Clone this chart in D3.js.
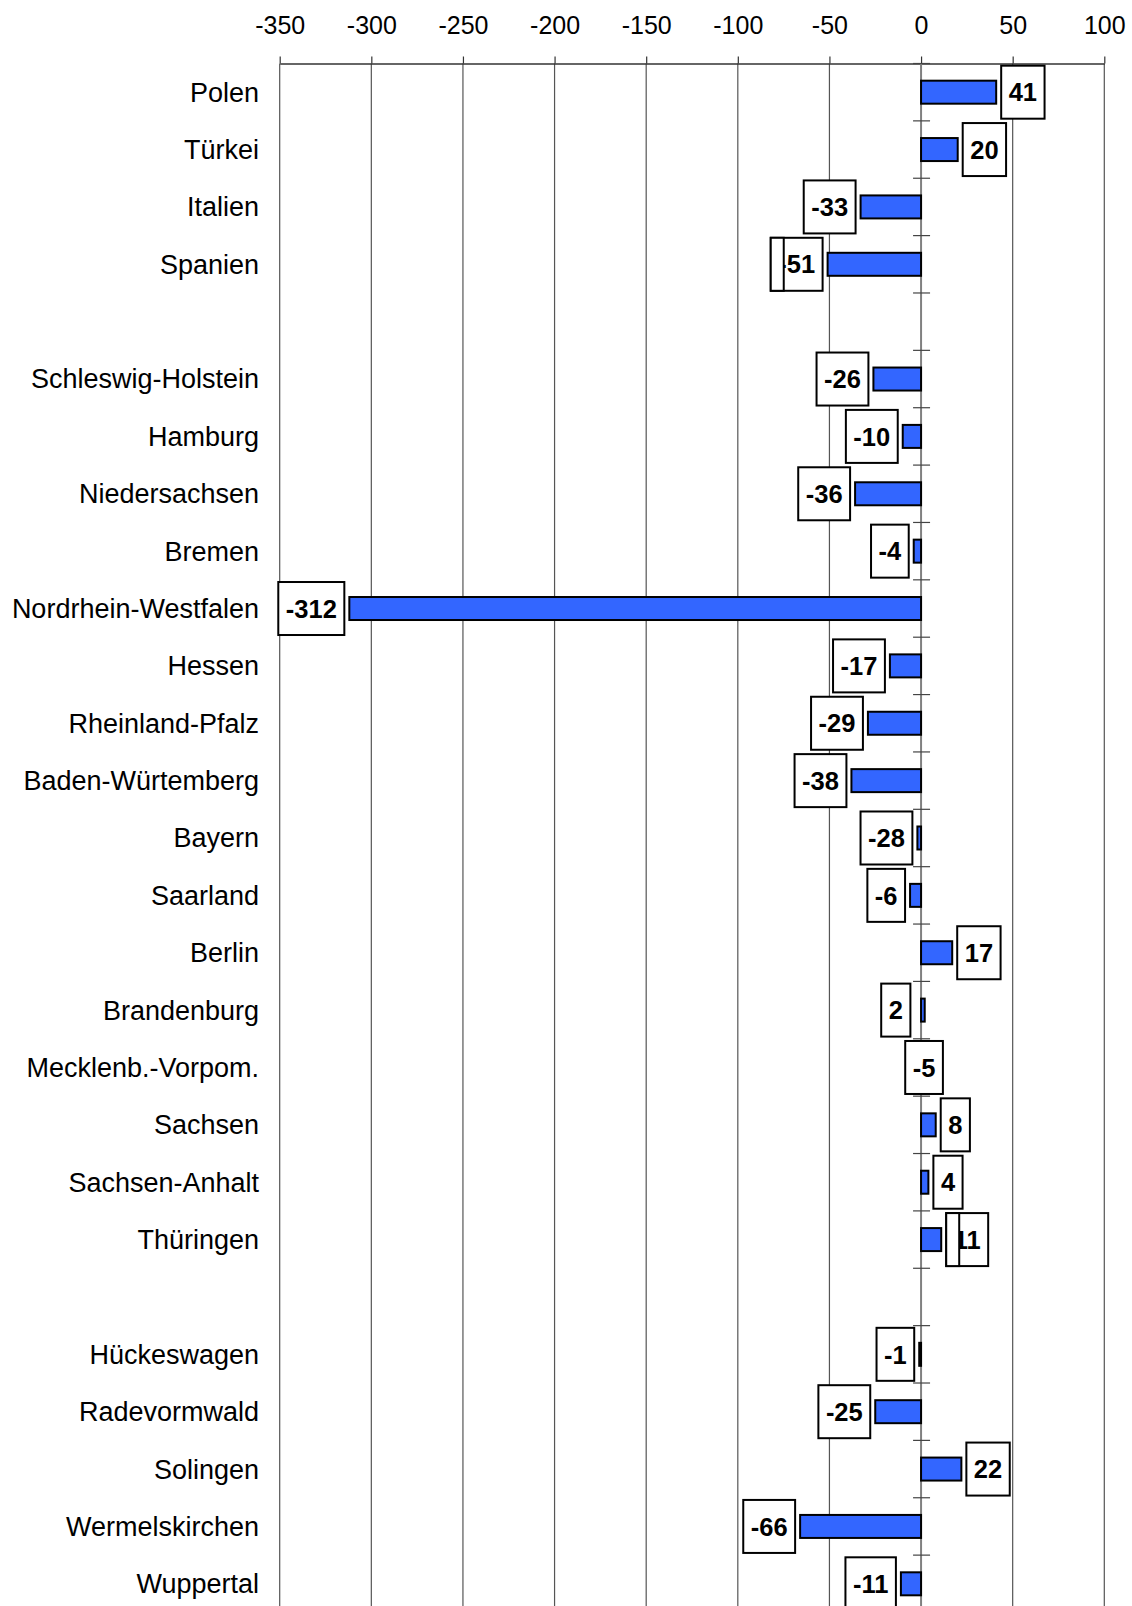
<!DOCTYPE html>
<html>
<head>
<meta charset="utf-8">
<script src="https://cdn.jsdelivr.net/npm/d3@7"></script>
<style>
  body { margin: 0; background: #fff; }
  svg { display: block; font-family: "Liberation Sans", Arial, sans-serif; }
</style>
</head>
<body>
<svg id="chart" width="1132" height="1606"></svg>
<script>
// categories, top to bottom ('' = empty spacer row)
var categories = ['Polen', 'Türkei', 'Italien', 'Spanien', '',
    'Schleswig-Holstein', 'Hamburg', 'Niedersachsen', 'Bremen', 'Nordrhein-Westfalen',
    'Hessen', 'Rheinland-Pfalz', 'Baden-Würtemberg', 'Bayern', 'Saarland', 'Berlin',
    'Brandenburg', 'Mecklenb.-Vorpom.', 'Sachsen', 'Sachsen-Anhalt', 'Thüringen', '',
    'Hückeswagen', 'Radevormwald', 'Solingen', 'Wermelskirchen', 'Wuppertal'];

// bar lengths as drawn
var values = [41, 20, -33, -51, null,
    -26, -10, -36, -4, -312,
    -17, -29, -38, -2, -6, 17,
    2, -5, 8, 4, 11, null,
    -1, -25, 22, -66, -11];

// printed data labels
var labelValues = [41, 20, -33, -51, null,
    -26, -10, -36, -4, -312,
    -17, -29, -38, -28, -6, 17,
    2, -5, 8, 4, 11, null,
    -1, -25, 22, -66, -11];

var tickValues = [-350, -300, -250, -200, -150, -100, -50, 0, 50, 100];

// label quirks of the original chart
var flippedLabels = ['Brandenburg'];
var centeredLabels = ['Mecklenb.-Vorpom.'];
var coveredLabels = ['Spanien', 'Thüringen'];

var svg = d3.select('#chart');

var xScale = d3.scaleLinear().domain([-350, 100]).range([279.7, 1104.3]);
var yScale = d3.scaleBand()
    .domain(d3.range(categories.length))
    .range([63.5, 63.5 + categories.length * 57.37]);

var axisY = 63.5;
var bottom = 1606;
var barHeight = 23;
var boxHeight = 53;
var gap = 5;
var pad = 7.5;

// gridlines
svg.append('g')
    .selectAll('line')
    .data(tickValues.filter(function(d) { return d !== 0; }))
    .join('line')
    .attr('x1', function(d) { return xScale(d); })
    .attr('x2', function(d) { return xScale(d); })
    .attr('y1', axisY)
    .attr('y2', bottom)
    .attr('stroke', '#555')
    .attr('stroke-width', 1.2);

// top axis
var xAxis = svg.append('g')
    .attr('transform', 'translate(0,' + axisY + ')')
    .call(d3.axisTop(xScale)
        .tickValues(tickValues)
        .tickFormat(function(d) { return String(d); })
        .tickSize(7)
        .tickSizeOuter(0)
        .tickPadding(23));

xAxis.select('.domain').attr('stroke', '#333').attr('stroke-width', 1.6);
xAxis.selectAll('.tick line').attr('stroke', '#333').attr('stroke-width', 1.2);
xAxis.selectAll('.tick text')
    .attr('font-family', '"Liberation Sans", Arial, sans-serif')
    .attr('font-size', 25)
    .attr('fill', '#000');

// zero line
var x0 = xScale(0);
svg.append('line')
    .attr('x1', x0).attr('x2', x0)
    .attr('y1', axisY).attr('y2', bottom)
    .attr('stroke', '#808080')
    .attr('stroke-width', 2);

// category ticks at band boundaries
var boundaries = d3.range(categories.length + 1).map(function(i) {
    return yScale.range()[0] + i * yScale.step();
});
svg.append('g')
    .selectAll('line')
    .data(boundaries)
    .join('line')
    .attr('x1', x0 - 8)
    .attr('x2', x0 + 9)
    .attr('y1', function(d) { return d; })
    .attr('y2', function(d) { return d; })
    .attr('stroke', '#444')
    .attr('stroke-width', 1.2);

// category labels
svg.append('g')
    .selectAll('text')
    .data(categories)
    .join('text')
    .attr('x', 259)
    .attr('y', function(d, i) { return yScale(i) + yScale.bandwidth() / 2; })
    .attr('dy', '0.35em')
    .attr('text-anchor', 'end')
    .attr('font-size', 27)
    .attr('fill', '#000')
    .text(function(d) { return d; });

var rows = categories.map(function(c, i) {
    return { name: c, index: i, value: values[i], label: labelValues[i] };
}).filter(function(d) { return d.value !== null; });

// bars
svg.append('g')
    .selectAll('rect')
    .data(rows)
    .join('rect')
    .attr('x', function(d) { return xScale(Math.min(0, d.value)); })
    .attr('width', function(d) { return Math.abs(xScale(d.value) - x0); })
    .attr('y', function(d) { return yScale(d.index) + yScale.bandwidth() / 2 - barHeight / 2; })
    .attr('height', barHeight)
    .attr('fill', '#3366ff')
    .attr('stroke', '#000')
    .attr('stroke-width', 2);

// data labels in boxes
var labelGroup = svg.append('g');
rows.forEach(function(d) {
    var cy = yScale(d.index) + yScale.bandwidth() / 2;
    var g = labelGroup.append('g');
    var box = g.append('rect');
    var text = g.append('text')
        .attr('font-size', 25.5)
        .attr('font-weight', 'bold')
        .attr('text-anchor', 'middle')
        .attr('dy', '0.36em')
        .attr('y', cy)
        .text(String(d.label));
    var w = text.node().getComputedTextLength() + 2 * pad;

    var left;
    if (centeredLabels.indexOf(d.name) >= 0) {
        left = x0 + 3 - w / 2;
    } else if (flippedLabels.indexOf(d.name) >= 0) {
        left = xScale(-Math.abs(d.value)) - gap - 2 - w;
    } else if (d.value >= 0) {
        left = xScale(d.value) + gap;
    } else {
        left = xScale(d.value) - gap - w;
    }

    box.attr('x', left)
        .attr('y', cy - boxHeight / 2)
        .attr('width', w)
        .attr('height', boxHeight)
        .attr('fill', '#fff')
        .attr('stroke', '#000')
        .attr('stroke-width', 2);
    text.attr('x', left + w / 2);

    if (coveredLabels.indexOf(d.name) >= 0) {
        g.append('rect')
            .attr('x', left)
            .attr('y', cy - boxHeight / 2)
            .attr('width', 13)
            .attr('height', boxHeight)
            .attr('fill', '#fff')
            .attr('stroke', '#000')
            .attr('stroke-width', 2);
    }
});
</script>
</body>
</html>
